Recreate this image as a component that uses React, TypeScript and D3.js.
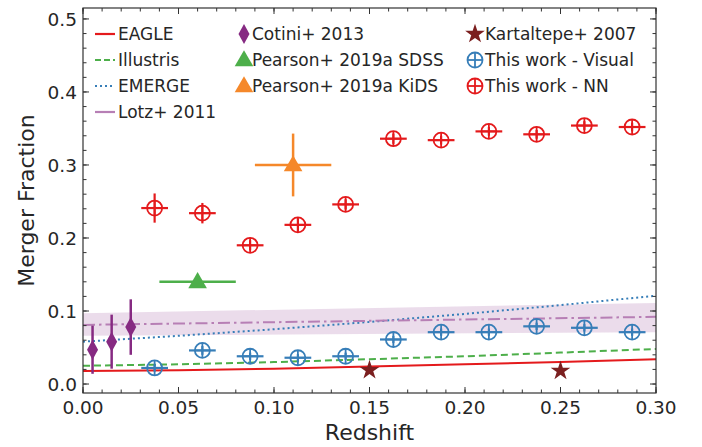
import { useEffect, useRef } from 'react'
import * as d3 from 'd3'

// redshift bins used for "This work"
const binZ = [0.0375, 0.0625, 0.0875, 0.1125, 0.1375, 0.1625, 0.1875, 0.2125, 0.2375, 0.2625, 0.2875]
const binZerr = [0.007, 0.007, 0.007, 0.007, 0.007, 0.007, 0.007, 0.007, 0.007, 0.007, 0.007]
const nnFrac = [0.241, 0.234, 0.19, 0.218, 0.246, 0.336, 0.334, 0.346, 0.342, 0.354, 0.352]
const nnErr = [0.02, 0.014, 0.007, 0.009, 0.007, 0.007, 0.006, 0.006, 0.006, 0.006, 0.006]
const visFrac = [0.022, 0.046, 0.038, 0.036, 0.038, 0.061, 0.071, 0.071, 0.079, 0.077, 0.071]
const visErr = [0.005, 0.006, 0.005, 0.005, 0.005, 0.005, 0.005, 0.005, 0.005, 0.005, 0.005]

// simulation curves
const modelZ = [0, 0.05, 0.1, 0.15, 0.2, 0.25, 0.3]
const eagle = [0.018, 0.019, 0.021, 0.024, 0.027, 0.03, 0.034]
const illustris = [0.025, 0.027, 0.03, 0.034, 0.038, 0.043, 0.048]
const emerge = [0.058, 0.066, 0.075, 0.085, 0.096, 0.108, 0.121]

// Lotz+ 2011 fit with band
const lotzZ = [0, 0.3]
const lotz = [0.081, 0.092]
const lotzLo = [0.066, 0.071]
const lotzHi = [0.097, 0.111]

// literature points
const cotiniZ = [0.005, 0.015, 0.025]
const cotiniFrac = [0.047, 0.058, 0.078]
const cotiniErr = [0.033, 0.037, 0.038]
const sdss = { z: 0.06, zerr: 0.02, frac: 0.14, err: 0.004 }
const kids = { z: 0.11, zerr: 0.02, frac: 0.3, err: 0.043 }
const kartZ = [0.15, 0.25]
const kartFrac = [0.019, 0.018]

const xTicks = [0, 0.05, 0.1, 0.15, 0.2, 0.25, 0.3]
const yTicks = [0, 0.1, 0.2, 0.3, 0.4, 0.5]
const xMinor = d3.range(0, 0.3001, 0.01)
const yMinor = d3.range(0, 0.5001, 0.02)

const RED = '#e41a1c'
const BLUE = '#377eb8'
const GREEN = '#4daf4a'
const LOTZ = '#b77fb5'
const COTINI = '#862a82'
const ORANGE = '#f5882a'
const KART = '#7b1f1f'
const FONT = 'DejaVu Sans, sans-serif'

export default function App() {
  const svgRef = useRef<SVGSVGElement>(null)

  useEffect(() => {
    if (!svgRef.current) return
    const svg = d3.select(svgRef.current)
    svg.selectAll('*').remove()

    const left = 83, right = 656, top = 8, bottom = 393
    const x = d3.scaleLinear().domain([0, 0.3]).range([left, right])
    const y = d3.scaleLinear().domain([-0.0123, 0.515]).range([bottom, top])

    svg.append('defs').append('clipPath').attr('id', 'plotClip')
      .append('rect').attr('x', left).attr('y', top).attr('width', right - left).attr('height', bottom - top)

    const g = svg.append('g').attr('clip-path', 'url(#plotClip)')

    // Lotz band + line
    const band = d3.area<number>().x((_, i) => x(lotzZ[i])).y0((_, i) => y(lotzLo[i])).y1((_, i) => y(lotzHi[i]))
    g.append('path').datum(lotz).attr('d', band).attr('fill', '#9d4f9d').attr('fill-opacity', 0.2)

    const line = (zs: number[]) => d3.line<number>().x((_, i) => x(zs[i])).y(d => y(d))

    g.append('path').datum(eagle).attr('d', line(modelZ)).attr('fill', 'none').attr('stroke', RED).attr('stroke-width', 2)
    g.append('path').datum(illustris).attr('d', line(modelZ)).attr('fill', 'none').attr('stroke', GREEN)
      .attr('stroke-width', 2).attr('stroke-dasharray', '7,4')
    g.append('path').datum(emerge).attr('d', line(modelZ)).attr('fill', 'none').attr('stroke', BLUE)
      .attr('stroke-width', 2).attr('stroke-dasharray', '2,3')
    g.append('path').datum(lotz).attr('d', line(lotzZ)).attr('fill', 'none').attr('stroke', LOTZ)
      .attr('stroke-width', 2).attr('stroke-dasharray', '12,4,2.5,4')

    const errorbar = (z: number, f: number, zerr: number, ferr: number, color: string, w: number) => {
      if (zerr > 0) g.append('line').attr('x1', x(z - zerr)).attr('x2', x(z + zerr)).attr('y1', y(f)).attr('y2', y(f))
        .attr('stroke', color).attr('stroke-width', w)
      if (ferr > 0) g.append('line').attr('x1', x(z)).attr('x2', x(z)).attr('y1', y(f - ferr)).attr('y2', y(f + ferr))
        .attr('stroke', color).attr('stroke-width', w)
    }

    const diamond = 'M0,-10L5.5,0L0,10L-5.5,0Z'
    const tri = d3.symbol(d3.symbolTriangle, 150)()
    const star = d3.symbol(d3.symbolStar, 120)()

    const oplus = (sel: d3.Selection<any, any, any, any>, cx: number, cy: number, color: string) => {
      const m = sel.append('g').attr('transform', `translate(${cx},${cy})`)
      m.append('circle').attr('r', 7.5).attr('fill', 'none').attr('stroke', color).attr('stroke-width', 1.8)
      m.append('line').attr('x1', -7.5).attr('x2', 7.5).attr('stroke', color).attr('stroke-width', 1.8)
      m.append('line').attr('y1', -7.5).attr('y2', 7.5).attr('stroke', color).attr('stroke-width', 1.8)
    }

    // Kartaltepe
    kartZ.forEach((z, i) => {
      g.append('path').attr('d', star).attr('fill', KART)
        .attr('transform', `translate(${x(z)},${y(kartFrac[i])})`)
    })

    // Cotini
    cotiniZ.forEach((z, i) => {
      errorbar(z, cotiniFrac[i], 0, cotiniErr[i], COTINI, 2.5)
      g.append('path').attr('d', diamond).attr('fill', COTINI)
        .attr('transform', `translate(${x(z)},${y(cotiniFrac[i])})`)
    })

    // Pearson
    ;[[sdss, GREEN], [kids, ORANGE]].forEach(([p, c]: any) => {
      errorbar(p.z, p.frac, p.zerr, p.err, c, 2.5)
      g.append('path').attr('d', tri).attr('fill', c).attr('transform', `translate(${x(p.z)},${y(p.frac) + 1})`)
    })

    // This work
    binZ.forEach((z, i) => {
      errorbar(z, visFrac[i], binZerr[i], visErr[i], BLUE, 2.2)
      oplus(g, x(z), y(visFrac[i]), BLUE)
      errorbar(z, nnFrac[i], binZerr[i], nnErr[i], RED, 2.2)
      oplus(g, x(z), y(nnFrac[i]), RED)
    })

    // frame and ticks
    const axis = svg.append('g')
    const tickColor = '#333'
    xTicks.forEach(t => {
      axis.append('line').attr('x1', x(t)).attr('x2', x(t)).attr('y1', bottom).attr('y2', bottom - 6).attr('stroke', tickColor)
      axis.append('line').attr('x1', x(t)).attr('x2', x(t)).attr('y1', top).attr('y2', top + 6).attr('stroke', tickColor)
      axis.append('text').attr('x', x(t)).attr('y', bottom + 21).attr('text-anchor', 'middle')
        .style('font-family', FONT).style('font-size', '18.5px').attr('fill', '#262626').text(t.toFixed(2))
    })
    xMinor.forEach(t => {
      axis.append('line').attr('x1', x(t)).attr('x2', x(t)).attr('y1', bottom).attr('y2', bottom - 3.5).attr('stroke', tickColor)
      axis.append('line').attr('x1', x(t)).attr('x2', x(t)).attr('y1', top).attr('y2', top + 3.5).attr('stroke', tickColor)
    })
    yTicks.forEach(t => {
      axis.append('line').attr('x1', left).attr('x2', left + 6).attr('y1', y(t)).attr('y2', y(t)).attr('stroke', tickColor)
      axis.append('line').attr('x1', right).attr('x2', right - 6).attr('y1', y(t)).attr('y2', y(t)).attr('stroke', tickColor)
      axis.append('text').attr('x', left - 6).attr('y', y(t)).attr('dy', '0.36em').attr('text-anchor', 'end')
        .style('font-family', FONT).style('font-size', '18.5px').attr('fill', '#262626').text(t.toFixed(1))
    })
    yMinor.forEach(t => {
      axis.append('line').attr('x1', left).attr('x2', left + 3.5).attr('y1', y(t)).attr('y2', y(t)).attr('stroke', tickColor)
      axis.append('line').attr('x1', right).attr('x2', right - 3.5).attr('y1', y(t)).attr('y2', y(t)).attr('stroke', tickColor)
    })
    axis.append('rect').attr('x', left).attr('y', top).attr('width', right - left).attr('height', bottom - top)
      .attr('fill', 'none').attr('stroke', tickColor).attr('stroke-width', 1.2)

    axis.append('text').attr('x', (left + right) / 2).attr('y', 440).attr('text-anchor', 'middle')
      .style('font-family', FONT).style('font-size', '22px').attr('fill', '#262626').text('Redshift')
    axis.append('text').attr('transform', `translate(34,${(top + bottom) / 2}) rotate(-90)`).attr('text-anchor', 'middle')
      .style('font-family', FONT).style('font-size', '22px').attr('fill', '#262626').text('Merger Fraction')

    // legend
    const legend = svg.append('g')
    const rows = [34, 60, 86, 112]
    const text = (tx: number, ty: number, s: string) =>
      legend.append('text').attr('x', tx).attr('y', ty).attr('dy', '0.35em')
        .style('font-family', FONT).style('font-size', '17px').attr('fill', '#262626').text(s)
    const lineItems: [string, string, string][] = [
      ['EAGLE', RED, 'none'], ['Illustris', GREEN, '6,3'], ['EMERGE', BLUE, '2,3'], ['Lotz+ 2011', LOTZ, 'none'],
    ]
    lineItems.forEach(([lab, c, dash], i) => {
      legend.append('line').attr('x1', 95).attr('x2', 115).attr('y1', rows[i]).attr('y2', rows[i])
        .attr('stroke', c).attr('stroke-width', 2.2).attr('stroke-dasharray', dash)
      text(118, rows[i], lab)
    })
    legend.append('path').attr('d', diamond).attr('fill', COTINI).attr('transform', `translate(244,${rows[0]})`)
    text(252, rows[0], 'Cotini+ 2013')
    legend.append('path').attr('d', tri).attr('fill', GREEN).attr('transform', `translate(244,${rows[1] + 1})`)
    text(252, rows[1], 'Pearson+ 2019a SDSS')
    legend.append('path').attr('d', tri).attr('fill', ORANGE).attr('transform', `translate(244,${rows[2] + 1})`)
    text(252, rows[2], 'Pearson+ 2019a KiDS')
    legend.append('path').attr('d', star).attr('fill', KART).attr('transform', `translate(475,${rows[0]})`)
    text(485, rows[0], 'Kartaltepe+ 2007')
    oplus(legend, 475, rows[1], BLUE)
    text(485, rows[1], 'This work - Visual')
    oplus(legend, 475, rows[2], RED)
    text(485, rows[2], 'This work - NN')
  }, [])

  return (
    <svg ref={svgRef} width={702} height={447}
      style={{ position: 'absolute', left: 0, top: 0, background: '#fff' }} />
  )
}
